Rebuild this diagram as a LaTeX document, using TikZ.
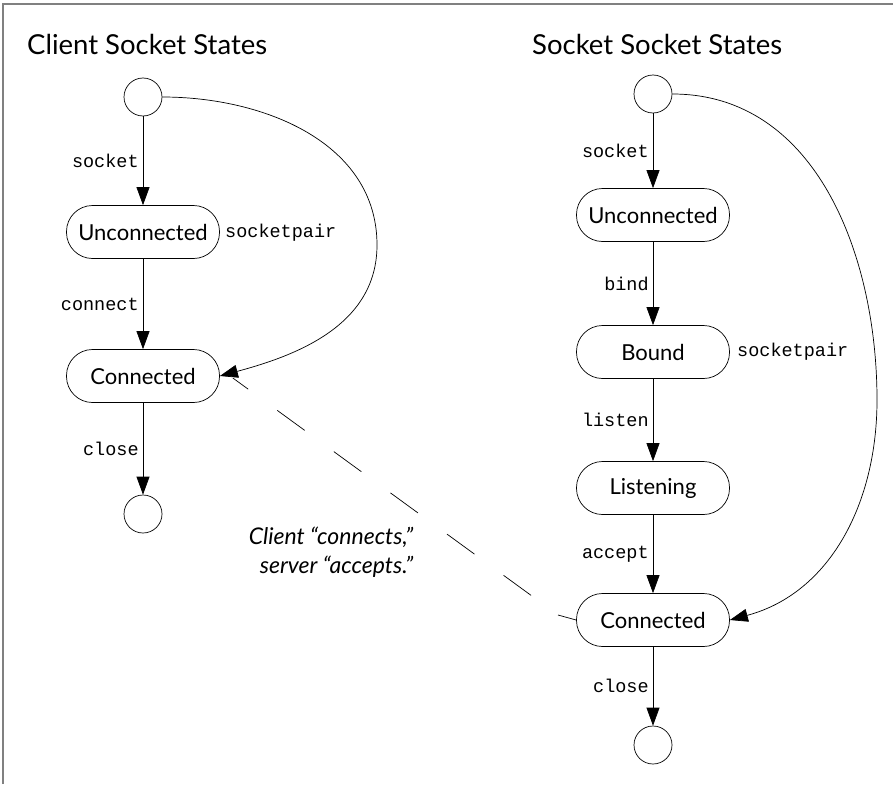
\documentclass[tikz,border=0pt]{standalone}
\usepackage{fontspec}
\setmainfont{Lato}
\setmonofont{Liberation Mono}
\usetikzlibrary{arrows.meta,positioning,calc}
\tikzset{
    state/.style={draw, rounded corners=26pt, minimum width=153pt, minimum height=53pt, line width=0.7pt, font=\fontsize{22}{24}\selectfont},
    term/.style={draw, circle, minimum size=38pt, inner sep=0pt, line width=0.7pt},
    arr/.style={line width=0.7pt, -{Triangle[length=18pt,width=13pt]}},
    lbl/.style={left, inner sep=4pt, font=\fontsize{18.5}{20}\selectfont\ttfamily},
    sidelbl/.style={anchor=west, inner sep=0pt, font=\fontsize{18.5}{20}\selectfont\ttfamily},
    heading/.style={anchor=west, inner sep=0pt, font=\fontsize{27.5}{30}\selectfont},
}

\begin{document}
\begin{tikzpicture}[x=1pt,y=1pt]
\useasboundingbox (0,0) rectangle (893,-784);
\draw[gray, line width=2pt] (2.5,-784) -- (2.5,-4) -- (893,-4);

        % client side
        \node[heading] (t1) at (27,-44) {Client Socket States};
        \node[term] (s1) at (143,-97) {};
        \node[state] (u1) at (143,-232) {Unconnected};
        \node[state] (c1) at (143,-376) {Connected};
        \node[term] (e1) at (143,-514) {};

        \draw[arr] (s1) -- node[lbl] {socket} (u1);
        \draw[arr] (u1) -- node[lbl] {connect} (c1);
        \draw[arr] (c1) -- node[lbl] {close} (e1);

        \coordinate (bend1) at (377,-245);
        \draw[arr] (s1.east) to[out=0,in=90] (bend1) to[out=-90,in=15] (c1.east);
        \node[sidelbl] (sp1) at (225,-233) {socketpair};


        % server side
        \node[heading] (t2) at (532,-44) {Socket Socket States};
        \node[term] (s2) at (653,-94) {};
        \node[state] (u2) at (653,-215) {Unconnected};
        \node[state] (b2) at (653,-352) {Bound};
        \node[state] (l2) at (653,-488) {Listening};
        \node[state] (c2) at (653,-620) {Connected};
        \node[term] (e2) at (653,-745) {};

        \draw[arr] (s2) -- node[lbl] {socket} (u2);
        \draw[arr] (u2) -- node[lbl] {bind} (b2);
        \draw[arr] (b2) -- node[lbl] {listen} (l2);
        \draw[arr] (l2) -- node[lbl] {accept} (c2);
        \draw[arr] (c2) -- node[lbl] {close} (e2);

        \coordinate (bend2) at (877,-400);
        \draw[arr] (s2.east) to[out=0,in=90] (bend2) to[out=-90,in=15] (c2.east);
        \node[sidelbl] (sp2) at (737,-352) {socketpair};


        % connect / accept link
        \coordinate (dstart) at ($(c1.east)+(13,-2)$);
        \coordinate (knee) at (558,-615);
        \draw[line width=0.7pt, dash pattern=on 34pt off 36pt, dash phase=15pt] (dstart) -- (knee);
        \draw[line width=0.7pt] (knee) -- (c2.west);
        \node[align=right, font=\itshape\fontsize{23}{29}\selectfont] (note) at (331,-552) {Client “connects,”\\ server “accepts.”};
\end{tikzpicture}
\end{document}
